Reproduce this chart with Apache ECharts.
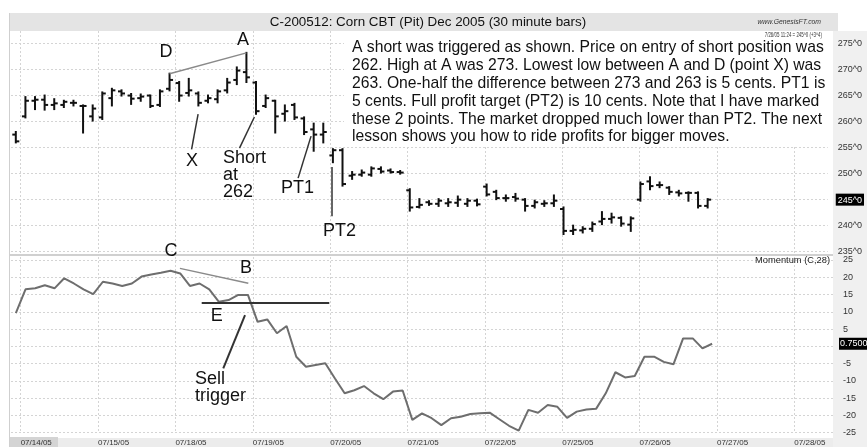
<!DOCTYPE html>
<html>
<head>
<meta charset="utf-8">
<title>C-200512 Corn CBT (Pit) Dec 2005</title>
<script src="https://cdn.jsdelivr.net/npm/echarts@6/dist/echarts.min.js"></script>
<style>
  html, body { margin: 0; padding: 0; background: #fff; }
  #chart { width: 867px; height: 447px; }
</style>
</head>
<body>
<div id="chart"></div>
<script>
// time axis: one bar of 07/13, then 8 half-hour bars per session
const days = ['07/14/05', '07/15/05', '07/18/05', '07/19/05', '07/20/05', '07/21/05', '07/22/05', '07/25/05', '07/26/05', '07/27/05', '07/28/05']
const barsPerDay = 8
const slotCount = 85

// 30 minute bars (cents)
const open = [257.5,
  261.0, 264.0, 264.2, 263.2, 263.2, 263.6, 263.0, 261.0,
  260.8, 264.5, 265.8, 265.0, 264.5, 265.0, 263.2, 266.3,
  267.4, 265.5, 265.4, 264.0, 264.3, 266.0, 268.0, 269.5,
  267.5, 263.0, 264.0, 261.5, 263.2, 260.6, 258.5, 257.5,
  253.5, 254.5, 249.6, 249.8, 249.8, 250.9, 250.6, 250.3,
  246.8, 243.6, 244.5, 244.2, 244.3, 244.4, 244.2, 244.8,
  247.5, 246.5, 245.3, 245.5, 245.0, 243.8, 244.2, 244.3,
  243.2, 239.0, 239.1, 239.4, 240.8, 241.3, 241.5, 240.2,
  245.0, 248.5, 247.8, 247.3, 246.4, 246.3, 246.3, 243.8]
const high = [258.0,
  264.7, 264.7, 265.0, 264.3, 264.0, 264.0, 263.1, 263.1,
  265.6, 266.3, 266.0, 265.3, 265.2, 265.0, 266.0, 269.2,
  267.6, 268.2, 265.6, 265.0, 266.0, 268.2, 270.4, 273.2,
  267.6, 265.0, 264.0, 263.1, 263.4, 260.8, 259.6, 259.6,
  254.7, 254.7, 250.3, 250.6, 251.2, 251.2, 250.8, 250.5,
  247.0, 245.1, 244.7, 245.1, 245.1, 245.6, 245.1, 245.0,
  247.9, 246.7, 245.8, 246.1, 245.1, 244.8, 244.7, 245.8,
  243.5, 240.0, 239.7, 240.6, 242.6, 242.3, 241.6, 241.6,
  248.3, 249.3, 248.3, 247.4, 246.7, 246.4, 246.4, 245.1]
const low = [256.0,
  260.8, 262.4, 262.3, 262.4, 262.8, 263.1, 257.9, 260.2,
  260.5, 263.1, 265.0, 263.4, 264.0, 262.8, 263.0, 266.0,
  264.0, 265.0, 263.1, 263.7, 263.7, 265.6, 267.2, 267.6,
  261.5, 262.8, 257.9, 260.2, 260.5, 257.6, 254.4, 256.0,
  252.2, 247.7, 249.0, 249.6, 249.6, 250.2, 250.2, 250.0,
  242.9, 243.5, 244.0, 243.8, 243.8, 243.8, 243.8, 243.9,
  245.8, 245.1, 244.8, 244.8, 242.9, 243.5, 243.8, 243.8,
  238.4, 238.4, 238.7, 239.0, 240.3, 240.6, 240.0, 239.0,
  244.8, 247.0, 247.4, 246.1, 245.8, 244.8, 243.5, 243.5]
const close = [256.2,
  264.0, 264.2, 263.2, 263.5, 263.8, 263.6, 263.0, 262.5,
  265.4, 266.0, 265.4, 264.4, 264.8, 263.0, 265.8, 268.0,
  265.0, 266.0, 263.6, 264.5, 265.8, 267.5, 269.8, 268.5,
  262.0, 264.5, 261.0, 262.0, 260.8, 258.0, 257.5, 258.0,
  254.5, 248.0, 249.8, 250.2, 251.0, 250.4, 250.3, 250.2,
  243.5, 244.0, 244.2, 244.8, 244.5, 245.0, 244.8, 244.1,
  246.0, 245.3, 245.3, 245.2, 243.8, 244.5, 244.3, 244.8,
  239.0, 239.2, 239.4, 240.3, 241.3, 241.6, 240.4, 241.4,
  248.0, 247.6, 247.8, 246.5, 246.2, 246.3, 243.8, 245.0]

// Momentum (C,28)
const momentum = [9.6,
  16.5, 16.8, 17.7, 16.8, 19.7, 18.2, 16.5, 15.1,
  18.7, 18.2, 17.5, 18.2, 20.2, 20.8, 21.3, 21.9,
  21.1, 17.5, 18.2, 16.5, 12.9, 13.4, 14.9, 14.9,
  7.1, 7.8, 3.8, 5.9, -3.0, -5.9, -5.4, -4.9,
  -9.3, -13.6, -12.7, -11.5, -13.6, -15.3, -13.1, -12.8,
  -21.3, -19.4, -20.8, -22.8, -20.8, -20.4, -19.6, -19.4,
  -19.2, -21.1, -23.0, -24.4, -18.4, -19.2, -17.0, -17.5,
  -20.7, -18.9, -18.3, -18.1, -13.6, -7.5, -9.0, -8.6,
  -3.0, -3.0, -4.5, -5.2, 2.3, 2.3, -0.6, 0.75]

const priceTicks = [235, 275, 5]
const momTicks = [-25, 25, 5]
const lastPrice = 245
const lastMom = 0.75

// boundary labels: a date at the start of each session
const timeLabels = []
for (let i = 0; i <= slotCount; i++) {
  timeLabels.push(i >= 1 && (i - 1) % barsPerDay === 0 ? (days[(i - 1) / barsPerDay] || '') : '')
}
const isDayStart = (i) => i >= 1 && (i - 1) % barsPerDay === 0

const ohlcData = open.map((o, i) => [i + 0.5, o, high[i], low[i], close[i]])
const momData = momentum.map((m, i) => [i + 0.5, m])

const FONT = '"Liberation Sans", Arial, sans-serif'
const gridLine = { color: '#d4d4d4', type: [2, 2], width: 1 }

const chart = echarts.init(document.getElementById('chart'))

function ptr(a, b, color, width) {
  return [{ coord: a, lineStyle: { color: color, width: width, type: 'solid' } }, { coord: b }]
}

function note(x, y, text, align, extra) {
  return Object.assign({
    type: 'text', x: x, y: y, z: 2,
    style: { text: text, font: '18px ' + FONT, fill: '#111', align: align || 'center', verticalAlign: 'middle' }
  }, extra || {})
}

const option = {
  animation: false,
  backgroundColor: '#fff',
  textStyle: { fontFamily: FONT },
  grid: [
    { left: 11, right: 34, top: 43.5, height: 208.2 },
    { left: 11, right: 34, top: 260, height: 172.7 },
    { left: 11, right: 34, top: 31, height: 224 },
    { left: 11, right: 34, top: 257, height: 180 }
  ],
  xAxis: [
    { type: 'value', gridIndex: 0, min: 0, max: slotCount, show: false },
    { type: 'value', gridIndex: 1, min: 0, max: slotCount, show: false },
    {
      type: 'category', gridIndex: 2, data: timeLabels, boundaryGap: false,
      axisLine: { show: false }, axisTick: { show: false }, axisLabel: { show: false },
      splitLine: { show: true, interval: isDayStart, lineStyle: gridLine }
    },
    {
      type: 'category', gridIndex: 3, data: timeLabels, boundaryGap: false,
      axisLine: { show: false }, axisTick: { show: false },
      axisLabel: { show: true, interval: isDayStart, align: 'left', margin: 6, fontSize: 8, color: '#333', fontFamily: FONT },
      splitLine: { show: true, interval: isDayStart, lineStyle: gridLine }
    }
  ],
  yAxis: [
    {
      type: 'value', gridIndex: 0, position: 'right', min: priceTicks[0], max: priceTicks[1], interval: priceTicks[2],
      axisLine: { show: false }, axisTick: { show: false },
      axisLabel: {
        margin: 8, fontFamily: FONT,
        formatter: (v) => v === lastPrice ? '{cur|' + v + '^0}' : '{n|' + v + '^0}',
        rich: {
          n: { fontSize: 9, color: '#333', padding: [0, 0, 0, 2], fontFamily: FONT },
          cur: { fontSize: 9, color: '#fff', backgroundColor: '#000', padding: [2, 2, 1, 2], fontFamily: FONT }
        }
      },
      splitLine: { show: true, lineStyle: gridLine }
    },
    {
      type: 'value', gridIndex: 1, position: 'right', min: momTicks[0], max: momTicks[1], interval: momTicks[2],
      axisLine: { show: false }, axisTick: { show: false },
      axisLabel: { margin: 10, fontSize: 9, color: '#333', fontFamily: FONT, formatter: (v) => v === 0 ? '' : String(v) },
      splitLine: { show: true, lineStyle: gridLine }
    },
    { type: 'value', gridIndex: 2, show: false },
    { type: 'value', gridIndex: 3, show: false }
  ],
  series: [
    {
      name: 'C-200512',
      type: 'custom',
      xAxisIndex: 0, yAxisIndex: 0,
      encode: { x: 0, y: [1, 2, 3, 4] },
      data: ohlcData,
      renderItem: (params, api) => {
        const x = api.value(0)
        const o = api.coord([x, api.value(1)])
        const h = api.coord([x, api.value(2)])
        const l = api.coord([x, api.value(3)])
        const c = api.coord([x, api.value(4)])
        const style = { stroke: '#111', lineWidth: 2 }
        return {
          type: 'group',
          children: [
            { type: 'line', shape: { x1: h[0], y1: h[1] - 1, x2: l[0], y2: l[1] + 1 }, style },
            { type: 'line', shape: { x1: o[0] - 3.5, y1: o[1], x2: o[0], y2: o[1] }, style },
            { type: 'line', shape: { x1: c[0], y1: c[1], x2: c[0] + 3.5, y2: c[1] }, style }
          ]
        }
      },
      markLine: {
        silent: true, symbol: 'none', label: { show: false },
        data: [
          ptr([16.5, 269.2], [24.5, 273.2], '#8a8a8a', 1.5),   // D - A
          ptr([19.47, 261.44], [18.79, 254.65], '#333', 1.5),  // X
          ptr([25.33, 260.87], [23.78, 254.9], '#333', 1.5),   // short at 262
          ptr([31.23, 257.21], [29.88, 249.13], '#333', 1.5),  // PT1
          ptr([33.35, 251.25], [33.35, 241.83], '#333', 1.5)   // PT2
        ]
      }
    },
    {
      name: 'Momentum (C,28)',
      type: 'line',
      xAxisIndex: 1, yAxisIndex: 1,
      data: momData,
      symbol: 'none',
      lineStyle: { color: '#6e6e6e', width: 2 },
      markLine: {
        silent: true, symbol: 'none', label: { show: false },
        data: [
          ptr([17.47, 22.58], [24.54, 18.24], '#8a8a8a', 1.5), // C - B
          ptr([19.72, 12.62], [32.91, 12.62], '#333', 2),      // E
          ptr([24.2, 9.06], [21.95, -6.37], '#333', 2),         // sell trigger
          {
            yAxis: lastMom,
            lineStyle: { color: 'rgba(0,0,0,0)', width: 1, type: 'solid' },
            label: {
              show: true, position: 'end', distance: 6, formatter: '0.7500', opacity: 1,
              color: '#fff', backgroundColor: '#000', fontSize: 9, padding: [2, 1, 1, 1], fontFamily: FONT
            }
          }
        ]
      }
    }
  ],
  graphic: [
    { type: 'rect', z: -10, shape: { x: 10, y: 13, width: 828, height: 18 }, style: { fill: '#e4e4e4' } },
    { type: 'rect', z: -10, shape: { x: 833, y: 31, width: 34, height: 416 }, style: { fill: '#f0f0f0' } },
    { type: 'rect', z: -10, shape: { x: 10, y: 438, width: 823, height: 9 }, style: { fill: '#ececec' } },
    { type: 'rect', z: -10, shape: { x: 10, y: 437, width: 48, height: 10 }, style: { fill: '#d4d4d4' } },
    { type: 'rect', z: -10, shape: { x: 10, y: 254, width: 823, height: 2 }, style: { fill: '#d0d0d0' } },
    { type: 'rect', z: -10, shape: { x: 9, y: 13, width: 1, height: 434 }, style: { fill: '#cfcfcf' } },
    // white panel behind the note text
    { type: 'rect', z: 1, shape: { x: 344, y: 31, width: 489, height: 114 }, style: { fill: '#fff' } },
    {
      type: 'text', x: 428, y: 22, z: 2,
      style: { text: 'C-200512: Corn CBT (Pit) Dec 2005 (30 minute bars)', font: '13.4px ' + FONT, fill: '#111', align: 'center', verticalAlign: 'middle' }
    },
    {
      type: 'text', x: 821, y: 22, z: 2, scaleX: 0.85,
      style: { text: 'www.GenesisFT.com', font: 'italic 8px ' + FONT, fill: '#333', align: 'right', verticalAlign: 'middle' }
    },
    {
      type: 'text', x: 822, y: 35, z: 2, scaleX: 0.63,
      style: { text: '7/26/05 11:24 = 245^0 (+3^4)', font: '7px ' + FONT, fill: '#333', align: 'right', verticalAlign: 'middle' }
    },
    {
      type: 'text', x: 830, y: 260, z: 2,
      style: { text: 'Momentum (C,28)', font: '9.3px ' + FONT, fill: '#222', align: 'right', verticalAlign: 'middle' }
    },
    {
      type: 'text', x: 352, y: 39.1, z: 2,
      style: {
        text: 'A short was triggered as shown. Price on entry of short position was\n' +
          '262. High at A was 273. Lowest low between A and D (point X) was\n' +
          '263. One-half the difference between 273 and 263 is 5 cents. PT1 is\n' +
          '5 cents. Full profit target (PT2) is 10 cents. Note that I have marked\n' +
          'these 2 points. The market dropped much lower than PT2. The next\n' +
          'lesson shows you how to ride profits for bigger moves.',
        font: '15.7px ' + FONT, lineHeight: 17.8, fill: '#111', align: 'left', verticalAlign: 'top'
      }
    },
    note(166, 52, 'D'),
    note(243, 40, 'A'),
    note(192, 161, 'X'),
    note(223, 175, 'Short\nat\n262', 'left', { style: { text: 'Short\nat\n262', font: '18px ' + FONT, lineHeight: 17.2, fill: '#111', align: 'left', verticalAlign: 'middle' } }),
    note(281, 188, 'PT1', 'left'),
    note(323, 231, 'PT2', 'left'),
    note(171, 251.5, 'C'),
    note(246, 268.5, 'B'),
    note(216.7, 316.3, 'E'),
    note(195, 387.5, 'Sell\ntrigger', 'left', { style: { text: 'Sell\ntrigger', font: '18px ' + FONT, lineHeight: 17, fill: '#111', align: 'left', verticalAlign: 'middle' } })
  ]
}

chart.setOption(option)
</script>
</body>
</html>
